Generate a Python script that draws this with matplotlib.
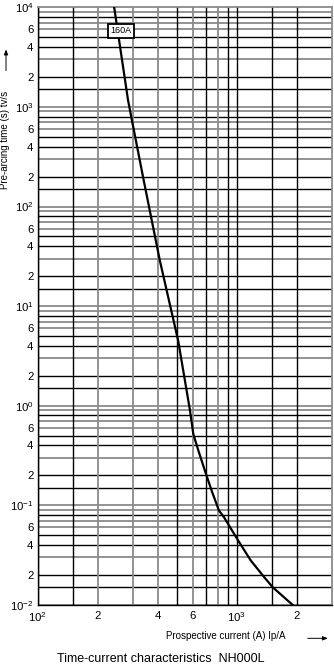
import matplotlib
matplotlib.use('Agg')
import matplotlib.pyplot as plt
import numpy as np

plt.rcParams['font.family'] = ['Liberation Sans', 'DejaVu Sans']
plt.rcParams['mathtext.fontset'] = 'custom'
plt.rcParams['mathtext.rm'] = 'Liberation Sans'
plt.rcParams['mathtext.it'] = 'Liberation Sans'

# 160A fuse curve
current_a = [242, 284, 297, 338, 410, 507, 581, 604, 640, 690, 746, 812, 861, 1014, 1174, 1371, 1510, 1905]
time_s = [10000, 1170, 736, 197, 28.8, 4.5, 0.90, 0.52, 0.356, 0.224, 0.141, 0.0888, 0.076,
          0.0444, 0.0279, 0.019, 0.0151, 0.01]
curve_label = '160A'

# grid multipliers per decade and their shades
h_mult = [1, 1.5, 2, 3, 4, 5, 6, 7, 8, 9]
h_shade = ['g', 'k', 'k', 'g', 'k', 'k', 'g', 'g', 'k', 'g']
v_lines = [100, 150, 200, 300, 400, 500, 600, 700, 800, 900, 1000, 1500, 2000]
v_shade = ['k', 'k', 'g', 'g', 'g', 'k', 'g', 'k', 'g', 'k', 'k', 'k', 'k']

x_ticks = [100, 200, 400, 600, 1000, 2000]
x_labels = [r'$10^2$', '2', '4', '6', r'$10^3$', '2']
y_ticks, y_labels = [], []
for d in range(-2, 4):
    for m, lab in [(1, r'$10^{%d}$' % d), (2, '2'), (4, '4'), (6, '6')]:
        y_ticks.append(m * 10.0 ** d)
        y_labels.append(lab)
y_ticks.append(1e4)
y_labels.append(r'$10^4$')

shade = {'k': ('black', 1.0), 'g': ('#8a8a8a', 1.3)}

fig = plt.figure(figsize=(3.34, 6.67), dpi=100)
ax = fig.add_axes([0.1129, 0.0930, 0.8811, 0.8961])
ax.set_xscale('log')
ax.set_yscale('log')
ax.set_xlim(100, 3000)
ax.set_ylim(0.01, 10000)

for d in range(-2, 4):
    for m, s in zip(h_mult, h_shade):
        c, lw = shade[s]
        ax.axhline(m * 10.0 ** d, color=c, lw=lw, zorder=1)
for v, s in zip(v_lines, v_shade):
    c, lw = shade[s]
    ax.axvline(v, color=c, lw=lw, zorder=1)

ax.plot(current_a, time_s, color='black', lw=1.6, zorder=3, solid_joinstyle='round')
ax.text(262, 5800, curve_label, fontsize=6.5, ha='center', va='center', zorder=4,
        bbox=dict(boxstyle='square,pad=0.3', fc='white', ec='black', lw=1.3))

ax.set_xticks(x_ticks)
ax.set_xticklabels(x_labels)
ax.set_yticks(y_ticks)
ax.set_yticklabels(y_labels)
ax.minorticks_off()
ax.tick_params(axis='both', length=0, labelsize=8.2)
ax.tick_params(axis='y', pad=3)
ax.tick_params(axis='x', pad=4)

for side in ['left', 'bottom']:
    ax.spines[side].set_color('black')
    ax.spines[side].set_linewidth(1.0)
for side in ['right', 'top']:
    ax.spines[side].set_color('#8a8a8a')
    ax.spines[side].set_linewidth(1.3)

fig.text(0.015, 0.79, 'Pre-arcing time (s) tv/s', rotation=90, fontsize=7,
         ha='center', va='center')
fig.patches.append(matplotlib.patches.FancyArrowPatch(
    (0.018, 0.890), (0.018, 0.930), transform=fig.transFigure,
    arrowstyle='-|>,head_length=3,head_width=1.2', color='black', lw=0.7))

fig.text(0.677, 0.046, 'Prospective current (A) Ip/A', fontsize=7, ha='center', va='center')
fig.patches.append(matplotlib.patches.FancyArrowPatch(
    (0.913, 0.043), (0.99, 0.043), transform=fig.transFigure,
    arrowstyle='-|>,head_length=3,head_width=1.2', color='black', lw=0.7))

fig.text(0.482, 0.012, 'Time-current characteristics  NH000L', fontsize=9,
         ha='center', va='center')

fig.savefig('out.png', dpi=100)
